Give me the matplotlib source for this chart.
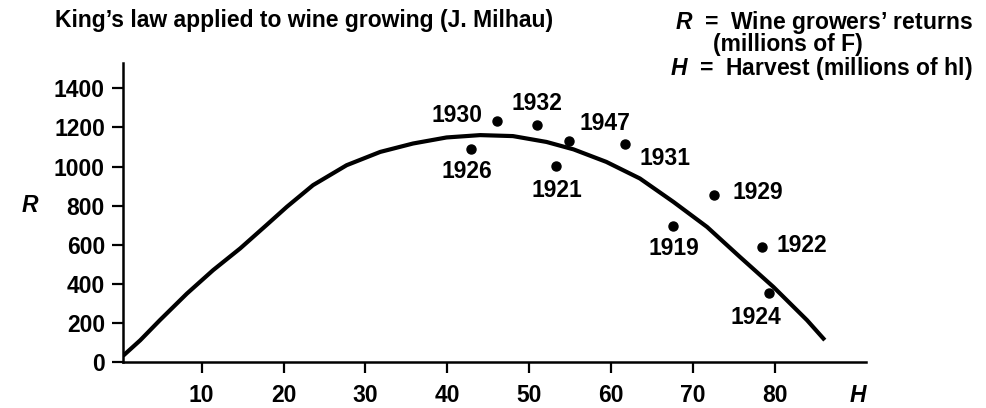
import numpy as np
import matplotlib.pyplot as plt

plt.rcParams['font.family'] = ['Liberation Sans', 'DejaVu Sans']
plt.rcParams['font.weight'] = 'bold'
plt.rcParams['mathtext.fontset'] = 'custom'
plt.rcParams['mathtext.it'] = 'Liberation Sans:italic:bold'
plt.rcParams['mathtext.rm'] = 'Liberation Sans:bold'

# harvest (millions of hl) and returns (millions of F)
years = ['1930', '1932', '1926', '1921', '1947', '1931', '1929', '1919', '1922', '1924']
harvest = [46.1, 50.9, 42.9, 53.2, 54.9, 61.7, 72.5, 67.5, 78.4, 79.2]
returns = [1234, 1212, 1089, 1002, 1130, 1115, 854, 695, 586, 353]

# King's law curve
curve_h = [0.6, 2.5, 4.9, 8.2, 11.4, 14.7, 17.9, 20.4, 23.6, 27.7, 31.8, 35.8,
           39.9, 44.0, 48.0, 52.1, 55.4, 59.4, 63.5, 67.6, 71.7, 75.7, 79.8,
           83.9, 85.9]
curve_r = [39, 111, 214, 350, 470, 581, 700, 794, 905, 1007, 1075, 1118,
           1149, 1161, 1156, 1126, 1088, 1024, 939, 819, 691, 538, 384,
           214, 120]

# label offsets in pixels (dx, dy, ha)
label_pos = {
    '1930': (-15, 5, 'right'), '1932': (0, 22, 'center'),
    '1926': (-4, -22, 'center'), '1921': (1, -24, 'center'),
    '1947': (10, 18, 'left'), '1931': (14, -14, 'left'),
    '1929': (19, 3, 'left'), '1919': (1, -22, 'center'),
    '1922': (15, 2, 'left'), '1924': (-13, -24, 'center'),
}

fs = 16.5

fig = plt.figure(figsize=(9.87, 4.08), dpi=100)
ax = fig.add_axes([123 / 987, 46 / 408, 743 / 987, 299 / 408])

ax.plot(curve_h, curve_r, color='black', lw=3, solid_joinstyle='round')
ax.plot(harvest, returns, 'o', color='black', ms=6.5)

for yr, h, r in zip(years, harvest, returns):
    dx, dy, ha = label_pos[yr]
    ax.annotate(yr, (h, r), xytext=(dx, dy), textcoords='offset pixels',
                ha=ha, va='center', fontsize=fs)

ax.set_xlim(0.4, 91.1)
ax.set_ylim(0, 1530)
ax.set_xticks(range(10, 90, 10))
ax.set_yticks(range(0, 1600, 200))
for s in ['top', 'right']:
    ax.spines[s].set_visible(False)
for s in ['left', 'bottom']:
    ax.spines[s].set_linewidth(1.8)
ax.tick_params(axis='x', direction='out', length=8, width=1.6, pad=8, labelsize=fs)
ax.tick_params(axis='y', direction='out', length=8, width=1.6, pad=5, labelsize=fs)

fig.text(55 / 987, 1 - 20 / 408, 'King’s law applied to wine growing (J. Milhau)',
         ha='left', va='center', fontsize=fs)
fig.text(973 / 987, 1 - 22 / 408, '$R$  =  Wine growers’ returns',
         ha='right', va='center', fontsize=fs)
fig.text(713 / 987, 1 - 45 / 408, '(millions of F)',
         ha='left', va='center', fontsize=fs)
fig.text(973 / 987, 1 - 68 / 408, '$H$  =  Harvest (millions of hl)',
         ha='right', va='center', fontsize=fs)
fig.text(30 / 987, 1 - 205 / 408, '$R$', ha='center', va='center', fontsize=fs)
fig.text(858 / 987, 1 - 395 / 408, '$H$', ha='center', va='center', fontsize=fs)

fig.savefig('out.png', dpi=100)
